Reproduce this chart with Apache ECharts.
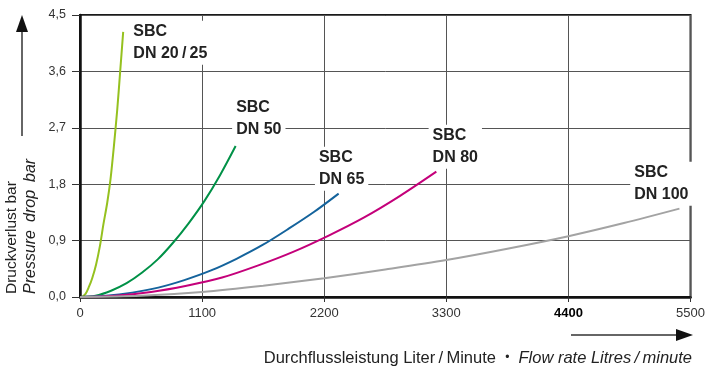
<!DOCTYPE html>
<html>
  <head>
    <title></title>
    <meta charset="UTF-8" />
    <script src="https://cdn.jsdelivr.net/npm/echarts@6/dist/echarts.min.js"></script>
  </head>
  <body style="margin:0">
    <div id="main"></div>
    <script>
      const width = 708;
      const height = 367;
      const main = document.getElementById('main');
      main.style.width = `${width}px`;
      main.style.height = `${height}px`;

      // flow rate (l/min), pressure drop (bar)
      const dn2025 = [[18, 0], [50, 0.05], [80, 0.16], [110, 0.3], [145, 0.52], [180, 0.82], [210, 1.15],
        [245, 1.5], [275, 1.88], [305, 2.4], [335, 2.98], [362, 3.6], [389, 4.23]];
      const dn50 = [[0, 0], [140, 0.02], [280, 0.1], [420, 0.22], [560, 0.39], [700, 0.6], [840, 0.87],
        [980, 1.18], [1120, 1.53], [1260, 1.94], [1402, 2.41]];
      const dn65 = [[0, 0], [235, 0.02], [470, 0.07], [705, 0.15], [940, 0.27], [1175, 0.42], [1410, 0.61],
        [1645, 0.83], [1880, 1.09], [2110, 1.36], [2330, 1.65]];
      const dn80 = [[0, 0], [320, 0.02], [640, 0.08], [960, 0.18], [1280, 0.31], [1600, 0.5], [1920, 0.72],
        [2240, 0.98], [2560, 1.27], [2880, 1.61], [3210, 2.0]];
      const dn100 = [[0, 0], [550, 0.02], [1100, 0.08], [1650, 0.18], [2200, 0.3], [2750, 0.44], [3300, 0.59],
        [3850, 0.77], [4400, 0.97], [4900, 1.18], [5400, 1.41]];

      const names = ['SBC\nDN 20\u2009/\u200925', 'SBC\nDN 50', 'SBC\nDN 65', 'SBC\nDN 80', 'SBC\nDN 100'];
      const colors = ['#95c11f', '#009147', '#14639c', '#c4007a', '#a3a3a3'];
      // where each label box sits (data coords of its top-left corner)
      const labelAt = [[449, 4.40], [1375, 3.19], [2121, 2.39], [3145, 2.74], [4961, 2.15]];
      const seriesData = [dn2025, dn50, dn65, dn80, dn100];

      const font = 'Liberation Sans';

      const myChart = echarts.init(main);
      const option = {
        animation: false,
        textStyle: { fontFamily: font },
        grid: {
          left: 80, right: 15, top: 15, bottom: 70,
          show: true,
          borderColor: '#1a1a1a',
          borderWidth: 2
        },
        xAxis: {
          type: 'value',
          min: 0,
          max: 5500,
          interval: 1100,
          axisLine: { lineStyle: { color: '#111', width: 2.5 } },
          axisTick: { show: true, length: 5, lineStyle: { color: '#333' } },
          axisLabel: {
            margin: 10,
            fontSize: 13,
            color: '#333',
            formatter: v => v === 4400 ? '{b|' + v + '}' : '' + v,
            rich: { b: { fontSize: 13, color: '#000', fontWeight: 'bold' } }
          },
          splitLine: { show: true, lineStyle: { color: '#555', width: 1 } }
        },
        yAxis: {
          type: 'value',
          min: 0,
          max: 4.5,
          interval: 0.9,
          axisLine: { show: true, lineStyle: { color: '#111', width: 2.5 } },
          axisTick: { show: true, length: 8, lineStyle: { color: '#333' } },
          axisLabel: {
            margin: 14,
            fontSize: 12.5,
            color: '#333',
            formatter: v => v.toFixed(1).replace('.', ',')
          },
          splitLine: { show: true, lineStyle: { color: '#555', width: 1 } }
        },
        graphic: [
          {
            type: 'text', x: 12, y: 294, rotation: Math.PI / 2,
            style: { text: 'Druckverlust bar', font: `15.5px "${font}"`, fill: '#222', align: 'left', verticalAlign: 'middle' }
          },
          {
            type: 'text', x: 31, y: 294, rotation: Math.PI / 2,
            style: { text: 'Pressure\u2002drop\u2002bar', font: `italic 16px "${font}"`, fill: '#222', align: 'left', verticalAlign: 'middle' }
          },
          { type: 'line', shape: { x1: 22, y1: 136, x2: 22, y2: 30 }, style: { stroke: '#333', lineWidth: 1.5 } },
          { type: 'polygon', shape: { points: [[22, 15], [16, 32], [28, 32]] }, style: { fill: '#111' } },
          { type: 'line', shape: { x1: 571, y1: 335, x2: 680, y2: 335 }, style: { stroke: '#333', lineWidth: 1.5 } },
          { type: 'polygon', shape: { points: [[693, 335], [676, 329], [676, 341]] }, style: { fill: '#111' } },
          {
            type: 'text', x: 692, y: 358,
            style: {
              text: '{r|Durchflussleistung Liter\u2009/\u2009Minute  }{d|\u2022}{i|  Flow rate Litres\u2009/\u2009minute}',
              align: 'right', verticalAlign: 'middle',
              rich: {
                r: { font: `16.5px "${font}"`, fill: '#222' },
                d: { font: `12px "${font}"`, fill: '#222' },
                i: { font: `italic 16.5px "${font}"`, fill: '#222' }
              }
            }
          }
        ],
        series: seriesData.map((d, i) => ({
          type: 'line',
          smooth: 0.3,
          symbol: 'none',
          lineStyle: { color: colors[i], width: 2 },
          data: d,
          z: 3,
          markPoint: {
            symbol: 'rect',
            symbolSize: 1,
            silent: true,
            itemStyle: { color: 'rgba(0,0,0,0)' },
            label: {
              show: true,
              position: [0, 0],
              align: 'left',
              verticalAlign: 'top',
              formatter: names[i],
              fontFamily: font,
              fontWeight: 'bold',
              fontSize: 16,
              lineHeight: 22,
              color: '#222',
              backgroundColor: '#fff',
              padding: [0, 4]
            },
            data: [{ coord: labelAt[i] }]
          }
        }))
      };
      myChart.setOption(option);
    </script>
  </body>
</html>
